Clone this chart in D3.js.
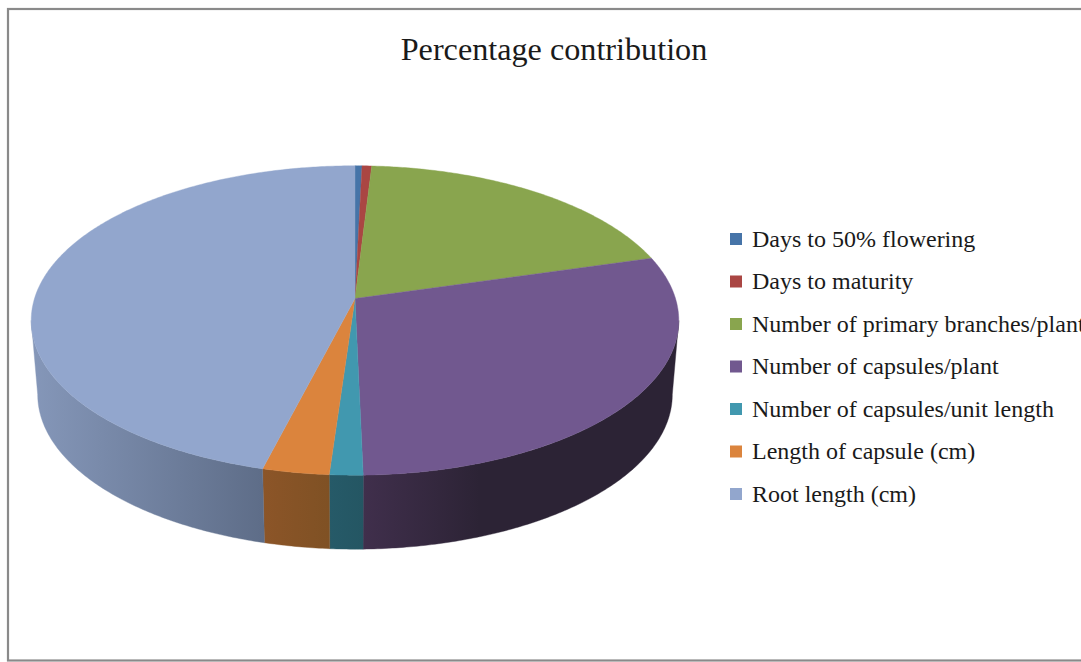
<!DOCTYPE html>
<html>
<head>
<meta charset="utf-8">
<title>Percentage contribution</title>
<script src="https://cdn.jsdelivr.net/npm/d3@7"></script>
<style>
  html, body { margin: 0; padding: 0; background: #fff; overflow: hidden; }
  text { font-family: "Liberation Serif", "Times New Roman", serif; fill: #1a1a1a; }
</style>
</head>
<body>
<script>
var chartTitle = "Percentage contribution";
var categories = ["Days to 50% flowering", "Days to maturity", "Number of primary branches/plant",
  "Number of capsules/plant", "Number of capsules/unit length", "Length of capsule (cm)", "Root length (cm)"];
var values = [0.4, 0.55, 19.6, 29.1, 1.45, 2.9, 46];
var topColors = ["#4674a8", "#aa4643", "#89a54e", "#71588f", "#4198af", "#db843d", "#92a6cd"];
// side wall shading, left to right
var wallLeft = ["#34557c", "#7e3432", "#657a39", "#402f4c", "#265a68", "#8c5528", "#8597b9"];
var wallRight = ["#34557c", "#7e3432", "#657a39", "#2c2335", "#245663", "#7f5124", "#5e6d88"];
var wallFade = [1, 1, 1, 0.37, 1, 1, 1];

var width = 1081, height = 662;

var svg = d3.select("body").append("svg")
  .attr("width", width)
  .attr("height", height);

// frame
svg.append("rect")
  .attr("x", 8).attr("y", 9)
  .attr("width", width + 20).attr("height", 651.5)
  .attr("fill", "#fff")
  .attr("stroke", "#8a8a8a")
  .attr("stroke-width", 2.2);

svg.append("text")
  .attr("x", 554).attr("y", 59.5)
  .attr("text-anchor", "middle")
  .attr("font-size", 32.2)
  .text(chartTitle);

// tilted disc: perspective maps the pie centre above the middle of the ellipse
var cx = 355, apexY = 298.5, radius = 320.5, persp = -0.142, tilt = 109.2;
var depth = 74, bottomScale = 0.98;

// angles between which the wall faces the viewer
var frontStart = Math.acos(persp), frontEnd = 2 * Math.PI - frontStart;

function project(angle) {
  var u = Math.sin(angle), v = -Math.cos(angle);
  var w = 1 + persp * v;
  return [cx + radius * u / w, (tilt * v + apexY) / w];
}

function projectBottom(angle) {
  var p = project(angle);
  return [cx + (p[0] - cx) * bottomScale, p[1] + depth];
}

function rim(start, end, fn) {
  var n = Math.max(2, Math.ceil((end - start) / 0.01));
  return d3.range(n + 1).map(function(i) {
    return fn(start + (end - start) * i / n);
  });
}

var pie = d3.pie().sort(null).value(function(d) { return d; });
var arcs = pie(values);
var line = d3.line();

// only the slices reaching the front half get a wall
var walls = arcs.map(function(a, i) {
  return {
    index: i,
    start: Math.max(a.startAngle, frontStart),
    end: Math.min(a.endAngle, frontEnd)
  };
}).filter(function(w) { return w.end > w.start; });

var defs = svg.append("defs");
walls.forEach(function(w) {
  var xs = rim(w.start, w.end, project).map(function(p) { return p[0]; });
  var g = defs.append("linearGradient")
    .attr("id", "wall" + w.index)
    .attr("gradientUnits", "userSpaceOnUse")
    .attr("x1", d3.min(xs)).attr("x2", d3.max(xs))
    .attr("y1", 0).attr("y2", 0);
  g.append("stop").attr("offset", 0).attr("stop-color", wallLeft[w.index]);
  g.append("stop").attr("offset", wallFade[w.index]).attr("stop-color", wallRight[w.index]);
});

svg.append("g").selectAll("path")
  .data(walls)
  .enter().append("path")
  .attr("d", function(d) {
    return line(rim(d.start, d.end, project)
      .concat(rim(d.start, d.end, projectBottom).reverse())) + "Z";
  })
  .attr("fill", function(d) { return "url(#wall" + d.index + ")"; })
  .attr("stroke", function(d) { return "url(#wall" + d.index + ")"; })
  .attr("stroke-width", 0.4);

svg.append("g").selectAll("path")
  .data(arcs)
  .enter().append("path")
  .attr("d", function(d) {
    return line([[cx, apexY]].concat(rim(d.startAngle, d.endAngle, project))) + "Z";
  })
  .attr("fill", function(d, i) { return topColors[i]; })
  .attr("stroke", function(d, i) { return topColors[i]; })
  .attr("stroke-width", 0.4);

// legend
var legendY = d3.scalePoint().domain(categories).range([239, 494]);

var legend = svg.append("g").selectAll("g")
  .data(categories)
  .enter().append("g")
  .attr("transform", function(d) { return "translate(0," + legendY(d) + ")"; });

legend.append("rect")
  .attr("x", 730).attr("y", -6)
  .attr("width", 12).attr("height", 12)
  .attr("fill", function(d, i) { return topColors[i]; });

legend.append("text")
  .attr("x", 752).attr("y", 7.6)
  .attr("font-size", 24)
  .text(function(d) { return d; });
</script>
</body>
</html>
